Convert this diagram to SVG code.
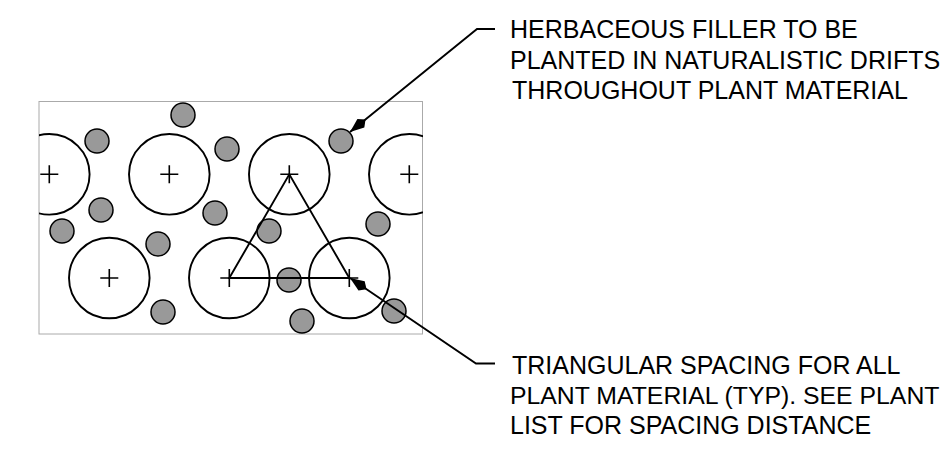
<svg xmlns="http://www.w3.org/2000/svg" width="941" height="452" viewBox="0 0 941 452">
<style>
.bed{fill:none;stroke:#aaa;stroke-width:1}
.big{fill:none;stroke:#000;stroke-width:1.9}
.small{fill:#999;stroke:#000;stroke-width:1.5}
.cross{fill:none;stroke:#000;stroke-width:1.6}
.line{fill:none;stroke:#000;stroke-width:1.9}
.head{fill:#000}
text{font-family:"Liberation Sans",Arial,sans-serif;font-size:25px;fill:#000}
text.fit{font-size:24.8px}
</style>
<defs>
<clipPath id="c"><rect x="39" y="101" width="384" height="233"/></clipPath>
<marker id="a" markerUnits="userSpaceOnUse" markerWidth="22" markerHeight="14" refX="20" refY="7" orient="auto"><path class="head" d="M0 7L6 1.500L20 7L6 12.500Z"/></marker>
<path id="x" class="cross" d="M-9 0H9M0-9V9"/>
</defs>
<rect class="bed" x="39" y="101.500" width="383.500" height="232.500"/>
<g id="node-plants-large" clip-path="url(#c)">
<circle class="big" cx="49.300" cy="174.300" r="40.300"/><use href="#x" x="49.300" y="174.300"/>
<circle class="big" cx="169.300" cy="174.300" r="40.300"/><use href="#x" x="169.300" y="174.300"/>
<circle class="big" cx="289.300" cy="174.300" r="40.300"/><use href="#x" x="289.300" y="174.300"/>
<circle class="big" cx="409.300" cy="174.300" r="40.300"/><use href="#x" x="409.300" y="174.300"/>
<circle class="big" cx="109.300" cy="278" r="40.300"/><use href="#x" x="109.300" y="278"/>
<circle class="big" cx="229.300" cy="278" r="40.300"/><use href="#x" x="229.300" y="278"/>
<circle class="big" cx="349.300" cy="278" r="40.300"/><use href="#x" x="349.300" y="278"/>
</g>
<g id="node-filler">
<circle class="small" cx="97" cy="141" r="12"/>
<circle class="small" cx="183" cy="115" r="12"/>
<circle class="small" cx="227" cy="149" r="12"/>
<circle class="small" cx="101" cy="210" r="12"/>
<circle class="small" cx="215" cy="213" r="12"/>
<circle class="small" cx="62" cy="231" r="12"/>
<circle class="small" cx="158" cy="244" r="12"/>
<circle class="small" cx="163" cy="312" r="12"/>
<circle class="small" cx="341" cy="141" r="12"/>
<circle class="small" cx="269" cy="231" r="12"/>
<circle class="small" cx="378" cy="224" r="12"/>
<circle class="small" cx="289" cy="280" r="12"/>
<circle class="small" cx="302" cy="321" r="12"/>
<circle class="small" cx="394" cy="311" r="12"/>
</g>
<g id="connectors">
<path class="line" d="M229.300 278L289.300 174.300L349.300 278Z"/>
<path class="line" marker-end="url(#a)" d="M495 29H477L350 132"/>
<path class="line" marker-end="url(#a)" d="M495 363.500H476L350 278"/>
</g>
<g id="node-label-filler">
<text x="510" y="37.500">HERBACEOUS FILLER TO BE</text>
<text x="510" y="69">PLANTED IN NATURALISTIC DRIFTS</text>
<text x="512" y="98.500">THROUGHOUT PLANT MATERIAL</text>
</g>
<g id="node-label-spacing">
<text x="512" y="373.500">TRIANGULAR SPACING FOR ALL</text>
<text class="fit" x="510" y="403.500">PLANT MATERIAL (TYP). SEE PLANT</text>
<text x="510" y="433.500">LIST FOR SPACING DISTANCE</text>
</g>
</svg>
